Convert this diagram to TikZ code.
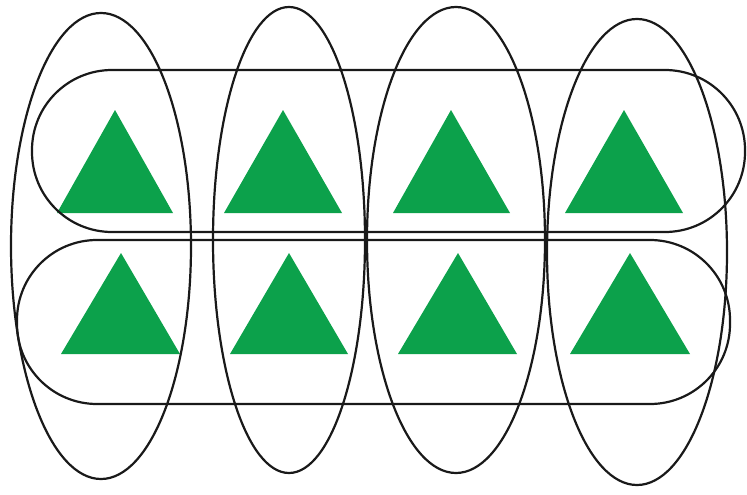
\documentclass[tikz,border=0pt]{standalone}
\usepackage{xcolor}
\usepackage{tikz}
\usetikzlibrary{calc}

\definecolor{trigreen}{RGB}{12,161,75}

\begin{document}
\begin{tikzpicture}[x=1pt, y=-1pt,
    tri/.style={fill=trigreen},
    setline/.style={draw=black!90, line width=2.2pt}]
    \useasboundingbox (0,0) rectangle (747,495);

    % Triangles, top row
    \fill[tri] (57,213) -- (115,110) -- (173,213) -- cycle;
    \fill[tri] (224,213) -- (283,110) -- (342,213) -- cycle;
    \fill[tri] (393,213) -- (451,110) -- (510,213) -- cycle;
    \fill[tri] (565,213) -- (624,110) -- (683,213) -- cycle;

    % Triangles, bottom row
    \fill[tri] (61,354) -- (121,253) -- (180,354) -- cycle;
    \fill[tri] (230,354) -- (289,253) -- (348,354) -- cycle;
    \fill[tri] (398,354) -- (458,253) -- (517,354) -- cycle;
    \fill[tri] (570,354) -- (630,253) -- (690,354) -- cycle;

    % Row sets
    \draw[setline, rounded corners=80pt] (32,70) rectangle (745,232);
    \draw[setline, rounded corners=80pt] (17,240) rectangle (730,404);

    % Column sets
    \draw[setline] (101,246) ellipse [x radius=90, y radius=233];
    \draw[setline] (289,240) ellipse [x radius=76, y radius=233];
    \draw[setline] (456,240) ellipse [x radius=89, y radius=233];
    \draw[setline] (637,252) ellipse [x radius=90, y radius=233];
\end{tikzpicture}
\end{document}
